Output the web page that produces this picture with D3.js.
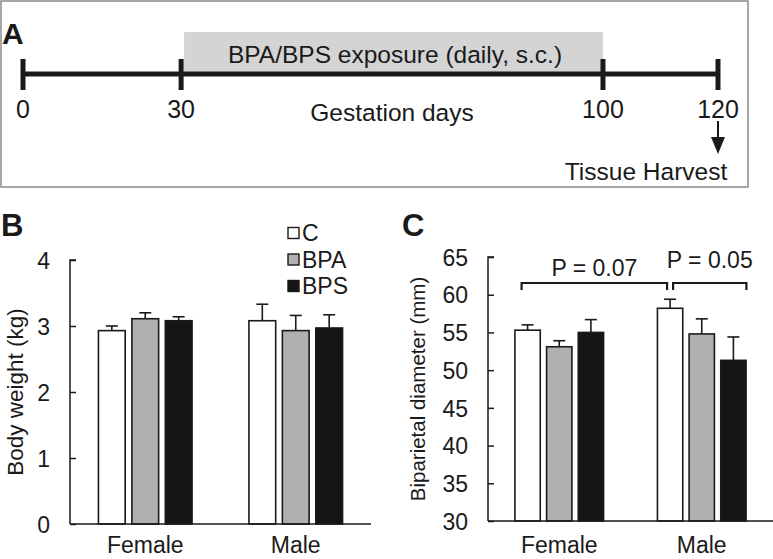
<!DOCTYPE html>
<html>
<head>
<meta charset="utf-8">
<script src="https://cdn.jsdelivr.net/npm/d3@7"></script>
<style>
  html, body { margin: 0; padding: 0; background: #fff; }
  svg { display: block; font-family: "Liberation Sans", Arial, Helvetica, sans-serif; }
</style>
</head>
<body>
<svg id="chart" width="773" height="559"></svg>
<script>
// ---------- DATA ----------
const timelineDays = [0, 30, 100, 120];
const exposureDays = [30, 100];
const harvestDay = 120;
const exposureLabel = "BPA/BPS exposure (daily, s.c.)";
const timelineTitle = "Gestation days";
const harvestLabel = "Tissue Harvest";

const categories = ["Female", "Male"];
const series = ["C", "BPA", "BPS"];
const seriesColors = ["#ffffff", "#b0b0b0", "#151515"];

// Body weight (kg): [C, BPA, BPS] per category
const bwFemale = [2.93, 3.11, 3.08];
const bwMale = [3.08, 2.93, 2.97];
const bwErrFemale = [0.07, 0.09, 0.06];
const bwErrMale = [0.25, 0.23, 0.20];
const bwTicks = [0, 1, 2, 3, 4];

// Biparietal diameter (mm)
const bpdFemale = [55.3, 53.1, 55.0];
const bpdMale = [58.2, 54.8, 51.3];
const bpdErrFemale = [0.7, 0.8, 1.7];
const bpdErrMale = [1.2, 2.0, 3.1];
const bpdTicks = [30, 35, 40, 45, 50, 55, 60, 65];

const pComparisons = [
  { from: ["Female", "C"], to: ["Male", "C"], label: "P = 0.07", level: 0 },
  { from: ["Male", "C"], to: ["Male", "BPS"], label: "P = 0.05", level: 1 }
];

// ---------- DRAW ----------
const svg = d3.select("#chart");
const ink = "#1a1a1a";

// ===== Panel A =====
svg.append("rect").attr("x", 1).attr("y", 1).attr("width", 747).attr("height", 186)
  .attr("fill", "none").attr("stroke", "#8a8a8a").attr("stroke-width", 1.5);
svg.append("text").attr("x", 2).attr("y", 44).text("A")
  .attr("font-size", 30).attr("font-weight", "bold").attr("fill", ink);

const tX0 = 23, tX1 = 718;
const tW = tX1 - tX0;
const tx = d3.scaleLinear().domain(timelineDays)
  .range([tX0, tX0 + tW * 0.2275, tX0 + tW * 0.8345, tX1]);
const tY = 74;

// exposure band
svg.append("rect")
  .attr("x", tx(exposureDays[0]) + 3).attr("y", 32)
  .attr("width", tx(exposureDays[1]) - tx(exposureDays[0]) - 3)
  .attr("height", tY - 32)
  .attr("fill", "#d4d4d4");
svg.append("text").attr("x", (tx(exposureDays[0]) + tx(exposureDays[1])) / 2 + 3).attr("y", 63)
  .attr("text-anchor", "middle").attr("font-size", 24.5).attr("fill", ink).text(exposureLabel);

// main line
svg.append("line").attr("x1", tx(timelineDays[0])).attr("x2", tx(timelineDays[timelineDays.length - 1]))
  .attr("y1", tY).attr("y2", tY).attr("stroke", ink).attr("stroke-width", 5);
svg.selectAll("line.ttick").data(timelineDays).enter().append("line").attr("class", "ttick")
  .attr("x1", d => tx(d)).attr("x2", d => tx(d)).attr("y1", 59).attr("y2", 90)
  .attr("stroke", ink).attr("stroke-width", 5);
svg.selectAll("text.tlab").data(timelineDays).enter().append("text").attr("class", "tlab")
  .attr("x", d => tx(d)).attr("y", 118).attr("text-anchor", "middle")
  .attr("font-size", 25).attr("fill", ink).text(d => d);
svg.append("text").attr("x", (tx(30) + tx(100)) / 2).attr("y", 121)
  .attr("text-anchor", "middle").attr("font-size", 24.5).attr("fill", ink).text(timelineTitle);

// harvest arrow
svg.append("line").attr("x1", tx(harvestDay)).attr("x2", tx(harvestDay))
  .attr("y1", 121).attr("y2", 140).attr("stroke", ink).attr("stroke-width", 2);
svg.append("path")
  .attr("d", `M${tx(harvestDay) - 7},137 L${tx(harvestDay) + 7},137 L${tx(harvestDay)},154 Z`)
  .attr("fill", ink);
svg.append("text").attr("x", tx(harvestDay) - 72).attr("y", 180).attr("text-anchor", "middle")
  .attr("font-size", 24.5).attr("fill", ink).text(harvestLabel);

// ===== bar panel helper =====
function barPanel(opts) {
  const g = svg.append("g");
  const x = d3.scalePoint().domain(categories).range([opts.x0, opts.x1]).padding(0.5);
  const step = x.step();
  const xi = d3.scaleBand().domain(series).range([-0.311 * step, 0.311 * step]).paddingInner(0.2);
  const y = d3.scaleLinear().domain(opts.domain).range([opts.yBottom, opts.yTop]);

  // y axis
  const yAxis = d3.axisRight(y).tickValues(opts.ticks).tickSize(6).tickFormat(d3.format("d"));
  const ya = g.append("g").attr("transform", `translate(${opts.x0},0)`).call(yAxis);
  ya.select(".domain").attr("stroke", ink).attr("stroke-width", 1.5).attr("d", `M6,${opts.yTop}H0V${opts.yBottom}`);
  ya.selectAll(".tick line").attr("stroke", ink).attr("stroke-width", 1.5);
  ya.selectAll(".tick text").attr("x", -20).attr("text-anchor", "end").attr("dy", "0.36em")
    .attr("font-size", 23).attr("fill", ink).attr("font-family", "Liberation Sans, Arial, sans-serif");

  // bars
  const rows = [];
  categories.forEach((c, ci) => {
    series.forEach((s, si) => {
      rows.push({ c, s, si, v: opts.values[ci][si], e: opts.errors[ci][si] });
    });
  });
  const bg = g.selectAll("g.bar").data(rows).enter().append("g").attr("class", "bar");
  bg.append("line")
    .attr("x1", d => x(d.c) + xi(d.s) + xi.bandwidth() / 2)
    .attr("x2", d => x(d.c) + xi(d.s) + xi.bandwidth() / 2)
    .attr("y1", d => y(d.v)).attr("y2", d => y(d.v + d.e))
    .attr("stroke", ink).attr("stroke-width", 1.6);
  bg.append("line")
    .attr("x1", d => x(d.c) + xi(d.s) + xi.bandwidth() / 2 - 6)
    .attr("x2", d => x(d.c) + xi(d.s) + xi.bandwidth() / 2 + 6)
    .attr("y1", d => y(d.v + d.e)).attr("y2", d => y(d.v + d.e))
    .attr("stroke", ink).attr("stroke-width", 1.6);
  bg.append("rect")
    .attr("x", d => x(d.c) + xi(d.s)).attr("width", xi.bandwidth())
    .attr("y", d => y(d.v)).attr("height", d => y(opts.domain[0]) - y(d.v))
    .attr("fill", d => seriesColors[d.si]).attr("stroke", ink).attr("stroke-width", 1.6);

  // x axis line
  g.append("line").attr("x1", opts.x0).attr("x2", opts.xAxisEnd)
    .attr("y1", opts.yBottom).attr("y2", opts.yBottom).attr("stroke", ink).attr("stroke-width", 1.6);
  g.selectAll("text.cat").data(categories).enter().append("text").attr("class", "cat")
    .attr("x", d => x(d)).attr("y", 553).attr("text-anchor", "middle")
    .attr("font-size", 23).attr("fill", ink).text(d => d);

  // y label
  g.append("text")
    .attr("transform", `translate(${opts.labelX},${(opts.yTop + opts.yBottom) / 2}) rotate(-90)`)
    .attr("text-anchor", "middle").attr("dy", "0.35em")
    .attr("font-size", opts.labelSize).attr("fill", ink).text(opts.label);

  // panel letter
  g.append("text").attr("x", opts.letterX).attr("y", 236).text(opts.letter)
    .attr("font-size", 31).attr("font-weight", "bold").attr("fill", ink);

  return { g, x, xi, y };
}

// ===== Panel B =====
const pB = barPanel({
  x0: 70, x1: 371, xAxisEnd: 371, yTop: 260, yBottom: 524,
  domain: [0, 4], ticks: bwTicks,
  values: [bwFemale, bwMale], errors: [bwErrFemale, bwErrMale],
  label: "Body weight (kg)", labelX: 15, labelSize: 22.5, letter: "B", letterX: 1
});

// legend
const lg = svg.append("g");
series.forEach((s, i) => {
  const cy = 233 + i * 26.5;
  lg.append("rect").attr("x", 288).attr("y", cy - 5.5).attr("width", 11).attr("height", 11)
    .attr("fill", seriesColors[i]).attr("stroke", ink).attr("stroke-width", 1.4);
  lg.append("text").attr("x", 302).attr("y", cy).attr("dy", "0.36em")
    .attr("font-size", 23).attr("fill", ink).text(s);
});

// ===== Panel C =====
const pC = barPanel({
  x0: 488, x1: 773, xAxisEnd: 773, yTop: 257, yBottom: 521,
  domain: [30, 65], ticks: bpdTicks,
  values: [bpdFemale, bpdMale], errors: [bpdErrFemale, bpdErrMale],
  label: "Biparietal diameter (mm)", labelX: 418, labelSize: 20.5, letter: "C", letterX: 402
});

// significance brackets
const bx = (ref) => pC.x(ref[0]) + pC.xi(ref[1]) + pC.xi.bandwidth() / 2;
pComparisons.forEach(p => {
  let xa = bx(p.from), xb = bx(p.to);
  if (p.level === 0) { xa -= 6; xb -= 3; } else { xa += 3; xb += 13; }
  const yTopB = 283, yLeg = 290;
  svg.append("path")
    .attr("d", `M${xa},${yLeg} V${yTopB} H${xb} V${yLeg}`)
    .attr("fill", "none").attr("stroke", ink).attr("stroke-width", 2.2);
  svg.append("text").attr("x", (xa + xb) / 2).attr("y", p.level === 0 ? 276 : 268)
    .attr("text-anchor", "middle").attr("font-size", 23).attr("fill", ink).text(p.label);
});
</script>
</body>
</html>
